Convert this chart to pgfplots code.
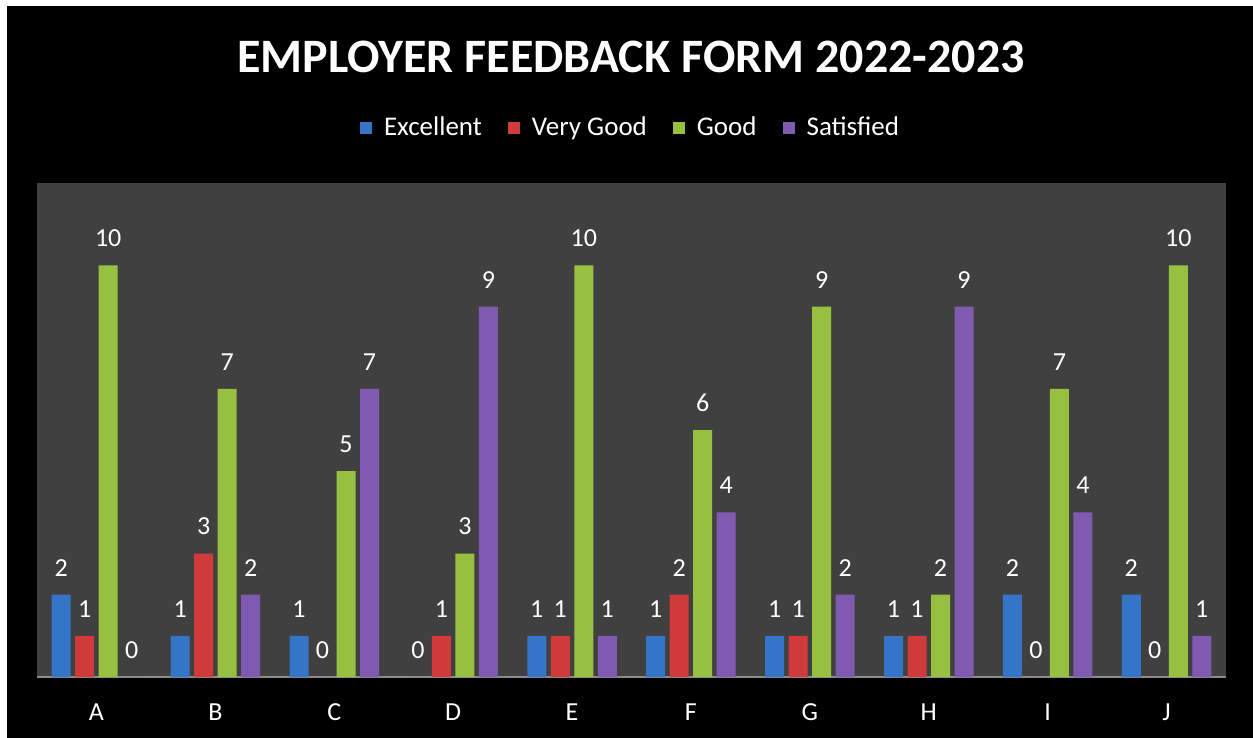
\documentclass[border=0pt]{standalone}
\usepackage{fontspec}
\setmainfont{Carlito}
\usepackage{pgfplots}
\pgfplotsset{compat=1.18}

\definecolor{plotbg}{HTML}{404040}
\definecolor{axgray}{HTML}{8C8C8C}
\definecolor{blueA}{HTML}{3475C8}
\definecolor{redA}{HTML}{D03A3A}
\definecolor{greenA}{HTML}{98C040}
\definecolor{purpA}{HTML}{8059B0}

\begin{document}
\begin{tikzpicture}
% page: 1253 x 738 px at 0.5pt per px
\fill[white] (0pt,0pt) rectangle (626.5pt,-369pt);
\fill[black] (3.5pt,-3pt) rectangle (626.5pt,-369pt);
\fill[plotbg] (18.5pt,-91.5pt) rectangle (613pt,-338.5pt);
\node[text=white, font=\fontsize{24}{27}\selectfont\bfseries] at (315.5pt,-28.5pt) {EMPLOYER FEEDBACK FORM 2022-2023};

\begin{axis}[
    at={(18.5pt,-338.5pt)}, anchor=south west,
    scale only axis, width=594.5pt, height=247pt,
    ybar=2.25pt, bar width=9.5pt,
    xmin=-0.5, xmax=9.5, ymin=0, ymax=12,
    axis x line*=bottom, axis y line=none,
    x axis line style={axgray, line width=1pt, -},
    xtick=data, xticklabels={A,B,C,D,E,F,G,H,I,J},
    major tick length=0pt,
    xticklabel style={text=white, font=\fontsize{13}{15}\selectfont, inner sep=0pt, anchor=north, yshift=-13pt},
    nodes near coords,
    /pgf/number format/assume math mode=true,
    every node near coord/.append style={text=white, font=\fontsize{13}{15}\selectfont, inner sep=0pt, anchor=south, yshift=9pt},
    legend style={at={(0.5,1.1113)}, anchor=center, draw=none, fill=none, text=white,
        font=\fontsize{13.5}{15}\selectfont, legend columns=-1,
        /tikz/every even column/.append style={column sep=11pt}},
    legend image code/.code={\fill[#1] (0pt,-3pt) rectangle (6pt,3pt); \path[draw=none, fill=none] (6pt,0pt) -- (10pt,0pt);},
]
\addplot[draw=none, fill=blueA] coordinates {
    (0,2) (1,1) (2,1) (3,0) (4,1) (5,1) (6,1) (7,1) (8,2) (9,2)};
\addplot[draw=none, fill=redA] coordinates {
    (0,1) (1,3) (2,0) (3,1) (4,1) (5,2) (6,1) (7,1) (8,0) (9,0)};
\addplot[draw=none, fill=greenA] coordinates {
    (0,10) (1,7) (2,5) (3,3) (4,10) (5,6) (6,9) (7,2) (8,7) (9,10)};
\addplot[draw=none, fill=purpA] coordinates {
    (0,0) (1,2) (2,7) (3,9) (4,1) (5,4) (6,2) (7,9) (8,4) (9,1)};
\legend{Excellent, Very Good, Good, Satisfied}
\end{axis}
\end{tikzpicture}
\end{document}
